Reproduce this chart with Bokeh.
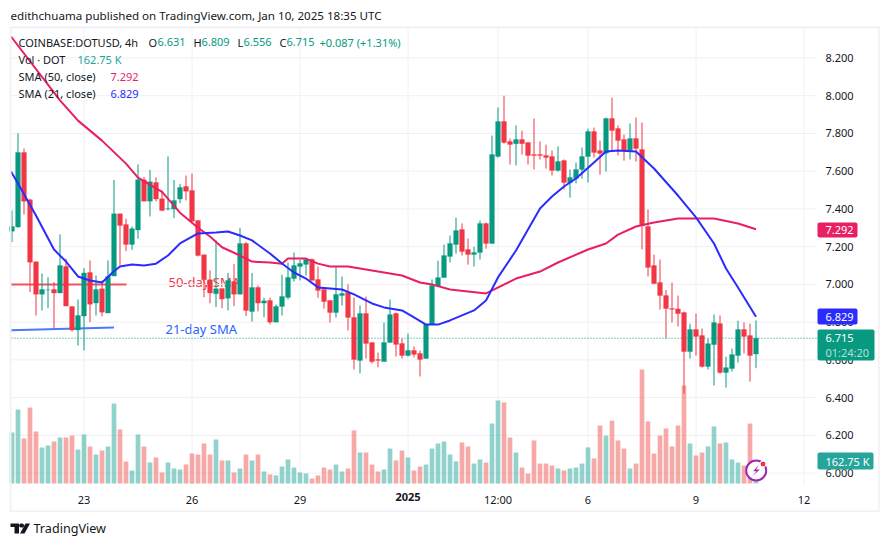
from bokeh.plotting import figure
from bokeh.models import (ColumnDataSource, Label, BoxAnnotation, PolyAnnotation, Range1d,
                          FixedTicker, NumeralTickFormatter)
from bokeh.embed import file_html
from bokeh.resources import INLINE

opens = [7.282,7.304,7.699,7.448,7.12,6.948,6.971,6.973,6.954,7.095,6.883,6.758,6.832,7.063,6.901,6.977,6.848,7.044,7.374,7.318,7.212,7.288,7.554,7.441,7.54,7.454,7.399,7.399,7.452,7.519,7.498,7.339,7.157,7.024,6.95,6.978,6.927,7.016,6.948,7.217,6.856,6.984,6.901,6.915,6.80,6.883,6.931,7.031,7.095,7.106,7.132,7.026,6.973,6.915,6.851,6.941,6.957,6.825,6.597,6.846,6.692,6.602,6.591,6.692,6.846,6.687,6.623,6.65,6.634,6.607,6.788,6.99,7.036,7.148,7.211,7.291,7.185,7.158,7.169,7.323,7.217,7.678,7.863,7.757,7.746,7.768,7.752,7.688,7.688,7.683,7.678,7.604,7.656,7.54,7.561,7.609,7.678,7.81,7.709,7.695,7.879,7.826,7.768,7.709,7.773,7.715,7.307,7.10,7.01,6.941,6.872,6.87,6.851,6.644,6.761,6.729,6.565,6.681,6.792,6.533,6.554,6.623,6.761,6.729,6.631]
highs = [7.392,7.80,7.72,7.454,7.12,7.058,7.038,7.012,7.265,7.136,6.883,6.92,7.086,7.127,7.047,7.021,7.127,7.554,7.374,7.348,7.307,7.636,7.569,7.607,7.567,7.498,7.678,7.554,7.533,7.577,7.588,7.339,7.157,7.074,7.233,6.978,7.061,7.109,7.30,7.224,7.061,6.994,6.929,6.929,6.894,7.051,7.116,7.169,7.13,7.138,7.138,7.095,6.973,6.915,7.095,7.042,7.0,6.93,6.888,6.936,6.692,6.639,6.798,6.92,6.851,6.713,6.74,6.671,6.65,6.788,7.026,7.126,7.211,7.259,7.354,7.323,7.243,7.2,7.338,7.328,7.789,7.937,8.0,7.773,7.842,7.815,7.752,7.879,7.757,7.741,7.71,7.731,7.662,7.609,7.646,7.725,7.826,7.831,7.762,7.884,7.99,7.842,7.794,7.853,7.884,7.858,7.397,7.158,7.132,6.97,7.01,6.941,6.856,6.792,6.845,6.766,6.713,6.84,6.835,6.617,6.66,6.808,6.798,6.792,6.809]
lows = [7.224,7.30,7.371,6.959,6.835,6.862,6.874,6.765,6.954,6.885,6.75,6.676,6.65,6.80,6.835,6.83,6.848,7.044,7.10,7.176,7.183,7.242,7.441,7.36,7.44,7.388,7.392,7.351,7.43,7.445,7.334,7.148,6.932,6.90,6.88,6.874,6.862,6.885,6.948,6.832,6.803,6.857,6.825,6.788,6.80,6.835,6.92,7.015,7.021,7.047,7.021,6.929,6.872,6.798,6.825,6.888,6.756,6.549,6.528,6.607,6.581,6.56,6.591,6.692,6.618,6.607,6.618,6.613,6.512,6.607,6.788,6.985,7.036,7.116,7.163,7.153,7.105,7.095,7.132,7.19,7.217,7.672,7.746,7.635,7.63,7.688,7.635,7.609,7.662,7.614,7.577,7.598,7.503,7.46,7.535,7.561,7.54,7.672,7.582,7.598,7.709,7.683,7.656,7.662,7.651,7.185,7.042,7.004,6.867,6.713,6.798,6.777,6.42,6.607,6.623,6.559,6.549,6.464,6.527,6.453,6.538,6.586,6.634,6.485,6.556]
closes = [7.307,7.699,7.441,7.118,6.948,6.973,6.971,6.954,7.10,6.885,6.758,6.835,7.061,6.895,6.973,6.853,7.042,7.374,7.312,7.212,7.295,7.554,7.441,7.544,7.452,7.392,7.401,7.445,7.514,7.494,7.334,7.153,7.024,6.954,6.977,6.922,7.021,6.948,7.217,6.862,6.984,6.901,6.913,6.80,6.883,6.936,7.037,7.10,7.111,7.132,7.021,6.968,6.909,6.851,6.947,6.952,6.825,6.602,6.846,6.687,6.591,6.597,6.692,6.84,6.682,6.623,6.65,6.629,6.602,6.788,6.994,7.036,7.153,7.217,7.285,7.174,7.158,7.169,7.323,7.217,7.688,7.863,7.752,7.741,7.768,7.746,7.683,7.683,7.683,7.672,7.604,7.651,7.54,7.566,7.609,7.678,7.81,7.699,7.694,7.879,7.816,7.762,7.709,7.773,7.72,7.312,7.09,7.004,6.941,6.872,6.868,6.845,6.644,6.761,6.724,6.565,6.686,6.798,6.533,6.559,6.628,6.761,6.724,6.623,6.715]
volumes = [361,523,318,537,368,255,269,297,325,325,339,240,346,262,205,233,262,566,382,156,92,346,262,148,184,78,148,106,99,134,212,205,283,205,311,163,163,78,106,205,163,205,85,64,57,120,170,113,78,71,35,57,113,99,134,85,106,375,219,219,134,85,99,247,163,233,184,92,120,134,247,283,297,205,156,290,262,141,170,148,424,587,573,325,219,113,71,304,141,141,127,106,92,106,113,141,255,177,410,339,445,304,247,106,141,806,438,212,339,389,262,410,693,283,198,219,262,403,283,290,170,148,127,424,162.75]

sma50_x = [-1,8,11,15,19,21,25,28,31,33,35,38,40,43,45,46,49,51,53,56,59,62,65,68,70,73,79,84,88,91,96,99,101,104,107,111,117,121,124]
sma50_y = [8.33,7.975,7.868,7.762,7.64,7.566,7.49,7.38,7.30,7.254,7.197,7.153,7.121,7.116,7.11,7.137,7.137,7.11,7.095,7.095,7.079,7.063,7.047,7.01,7.0,6.973,6.952,7.031,7.068,7.116,7.185,7.217,7.264,7.307,7.328,7.349,7.349,7.323,7.292]
sma21_x = [-1,1,4,7,9,11,13,15,17,18,20,22,24,26,28,31,34,36,38,40,43,45,47,49,51,55,57,60,62,65,67,69,71,73,77,79,81,84,88,90,92,94,97,99,101,104,107,111,114,117,119,121,124]
sma21_y = [7.63,7.535,7.365,7.185,7.121,7.042,7.021,7.01,7.07,7.095,7.105,7.10,7.11,7.153,7.217,7.27,7.275,7.28,7.259,7.233,7.164,7.111,7.063,7.031,6.984,6.973,6.947,6.899,6.878,6.862,6.825,6.787,6.787,6.809,6.862,6.915,7.037,7.18,7.402,7.466,7.519,7.561,7.646,7.704,7.71,7.704,7.614,7.471,7.355,7.217,7.084,6.984,6.829]

price_ticks = [6.0,6.2,6.4,6.6,6.8,7.0,7.2,7.4,7.6,7.8,8.0,8.2]
time_ticks = [12,30,48,66,81,96,114,132]
time_labels = ["23","26","29","2025","12:00","6","9","12"]

GREEN, RED = "#089981", "#f23645"
PINK, BLUE = "#e91e63", "#2b2bff"
TXT = "#131722"
FONT = "Noto Sans"
BORDER = "#f0f0f6"
GRID = "#f0f0f3"

# page pixel -> data helpers (chrome placement only)
def X(px): return (px - 11.5) / 6.0
def Y(py): return 8.0 - (py - 95.2) / 188.7

p = figure(width=888, height=546, output_backend="svg", toolbar_location=None,
           x_range=Range1d(X(0), X(888)), y_range=Range1d(Y(546), Y(0)),
           min_border_left=0, min_border_right=0, min_border_top=0, min_border_bottom=0,
           background_fill_color="white", border_fill_color="white", outline_line_color=None,
           y_axis_location="right")
p.extra_y_ranges = {"vol": Range1d((483 - 546) * 7.07, 483 * 7.07)}
p.grid.visible = False

overrides = dict(zip(time_ticks, time_labels))
overrides[66] = ""          # the year is set in bold below
p.xaxis.ticker = FixedTicker(ticks=time_ticks)
p.xaxis.major_label_overrides = overrides
p.xaxis.fixed_location = Y(484)
p.xaxis.major_label_standoff = 7
p.yaxis.ticker = FixedTicker(ticks=price_ticks)
p.yaxis.formatter = NumeralTickFormatter(format="0.000")
p.yaxis.fixed_location = X(816)
p.yaxis.major_label_standoff = 9
for ax in (p.xaxis[0], p.yaxis[0]):
    ax.axis_line_color = None
    ax.major_tick_line_color = None
    ax.minor_tick_line_color = None
    ax.major_tick_out = 0
    ax.major_tick_in = 0
    ax.major_label_text_font = FONT
    ax.major_label_text_font_size = "11px"
    ax.major_label_text_color = TXT

# grid
p.segment(x0=time_ticks, y0=[Y(484)] * len(time_ticks), x1=time_ticks, y1=[Y(28)] * len(time_ticks),
          line_color=GRID, line_width=1)
p.segment(x0=[X(11)] * len(price_ticks), y0=price_ticks, x1=[X(816)] * len(price_ticks), y1=price_ticks,
          line_color=GRID, line_width=1)

idx = list(range(len(opens)))
up = [c >= o for o, c in zip(opens, closes)]
src = ColumnDataSource(dict(
    i=idx, o=opens, h=highs, l=lows, c=closes, v=volumes,
    top=[max(o, c) for o, c in zip(opens, closes)],
    bot=[min(o, c) for o, c in zip(opens, closes)],
    col=[GREEN if u else RED for u in up],
    vcol=["#26a69a" if u else "#ef5350" for u in up],
))

# volume pane
p.vbar(x="i", top="v", bottom=0, width=0.78, source=src, y_range_name="vol",
       fill_color="vcol", fill_alpha=0.5, line_color=None)

# drawings beneath the candles
p.line([X(10.5), 19.1], [7.0, 7.0], line_color=RED, line_width=2, line_alpha=0.85)
p.line([X(10.5), 17.0], [6.757, 6.771], line_color="#2962ff", line_width=2, line_alpha=0.85)
p.add_layout(Label(x=X(168), y=Y(281.5), text="50-day SMA", text_font=FONT, text_font_size="13px",
                   text_color=RED, text_baseline="middle", level="underlay"))
p.add_layout(Label(x=X(165), y=Y(328), text="21-day SMA", text_font=FONT, text_font_size="13px",
                   text_color="#2962ff", text_baseline="middle", level="underlay"))

# candles
p.segment(x0="i", y0="l", x1="i", y1="h", source=src, line_color="col", line_width=1)
p.vbar(x="i", top="top", bottom="bot", width=0.8, source=src, fill_color="col", line_color="col", line_width=0.3)

# moving averages
p.line([X(10.5)] + sma50_x[1:], [Y(36)] + sma50_y[1:], line_color=PINK, line_width=2, line_join="round")
p.line([X(10.5)] + sma21_x[1:], [Y(171)] + sma21_y[1:], line_color=BLUE, line_width=2, line_join="round")

# last price line
p.line([X(11), X(816)], [closes[-1], closes[-1]], line_color=GREEN, line_width=1, line_dash="1 2")

# outer frame
for l, r, t, b in [(9.3, 11, 26, 511.5), (877.5, 879, 26, 511.5), (9.3, 879, 26, 27.7), (9.3, 879, 510, 511.5)]:
    p.add_layout(BoxAnnotation(left=X(l), right=X(r), top=Y(t), bottom=Y(b), fill_color=BORDER, fill_alpha=1,
                               line_color=None))

def label(px, py, text, color=TXT, size="11px", style="normal", align="left"):
    p.add_layout(Label(x=X(px), y=Y(py), text=text, text_font=FONT, text_font_size=size, text_color=color,
                       text_font_style=style, text_baseline="middle", text_align=align))

def tag(l, r, t, b, color):
    p.add_layout(BoxAnnotation(left=X(l), right=X(r), top=Y(t), bottom=Y(b), fill_color=color, fill_alpha=1,
                               line_color=None, border_radius=2))

label(10, 15, "edithchuama published on TradingView.com, Jan 10, 2025 18:35 UTC", size="11.6px")
label(407.5, 496.5, "2025", style="bold", align="center")
label(18, 41.5, "COINBASE:DOTUSD, 4h")
for px, s in [(148, "O"), (193, "H"), (237, "L"), (279, "C")]:
    label(px, 41.5, s)
for px, s in [(157, "6.631"), (201, "6.809"), (243, "6.556"), (286, "6.715"), (319, "+0.087 (+1.31%)")]:
    label(px, 41.5, s, color=GREEN)
label(18, 58.5, "Vol · DOT")
label(77, 58.5, "162.75 K", color="#26a69a")
label(18, 76, "SMA (50, close)")
label(110, 76, "7.292", color=PINK)
label(18, 93, "SMA (21, close)")
label(110, 93, "6.829", color=BLUE)

# price tags
tag(817, 857, 222, 237, PINK)
label(825, 229.5, "7.292", color="white")
tag(817, 857, 308, 324, BLUE)
label(825, 316, "6.829", color="white")
tag(817, 874, 329, 360, GREEN)
label(825, 337.5, "6.715", color="white")
label(825, 351.5, "01:24:20", color="#b5e0d8")
tag(817, 873, 452, 469, "#26a69a")
label(825, 460.5, "162.75 K", color="white")

# purple badge
p.scatter([X(755.7)], [Y(470)], marker="circle", size=20, fill_color="white", line_color="#9c27b0", line_width=2)
p.add_layout(PolyAnnotation(xs=[X(v) for v in (758.3, 752.7, 756, 752, 759.3, 755.7)],
                            ys=[Y(v) for v in (464.3, 470.7, 470.7, 475.7, 469, 469)],
                            fill_color="#9c27b0", fill_alpha=1, line_color=None))
p.scatter([X(762.5)], [Y(463.5)], marker="circle", size=6, fill_color=RED, line_color="white", line_width=1)

# footer logo
p.add_layout(PolyAnnotation(xs=[X(v) for v in (10, 18.5, 18.5, 14, 14, 10)],
                            ys=[Y(v) for v in (523, 523, 533, 533, 526.5, 526.5)],
                            fill_color=TXT, fill_alpha=1, line_color=None))
p.add_layout(PolyAnnotation(xs=[X(v) for v in (25, 29.5, 24, 19.5)],
                            ys=[Y(v) for v in (523, 523, 533, 533)],
                            fill_color=TXT, fill_alpha=1, line_color=None))
p.add_layout(PolyAnnotation(xs=[X(v) for v in (20, 22, 23.5, 23.5, 22, 20, 18.7, 18.7)],
                            ys=[Y(v) for v in (523, 523, 524.2, 526, 527, 527, 526, 524.2)],
                            fill_color=TXT, fill_alpha=1, line_color=None))
label(33, 528, "TradingView", size="12.6px")

open("out.html", "w").write(file_html(p, INLINE))
